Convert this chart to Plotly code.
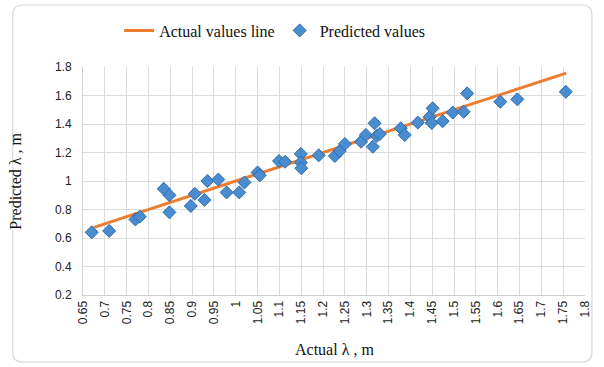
import plotly.graph_objects as go

actual = [0.67, 0.71, 0.77, 0.78, 0.835, 0.848, 0.848, 0.897, 0.906, 0.928,
          0.935, 0.96, 0.979, 1.008, 1.02, 1.05, 1.055, 1.099, 1.113, 1.149,
          1.149, 1.15, 1.19, 1.227, 1.238, 1.25, 1.287, 1.298, 1.318, 1.323,
          1.314, 1.33, 1.378, 1.387, 1.417, 1.444, 1.451, 1.449, 1.474, 1.497,
          1.522, 1.53, 1.606, 1.645, 1.756]
predicted = [0.64, 0.65, 0.73, 0.75, 0.945, 0.90, 0.78, 0.825, 0.91, 0.867,
             1.0, 1.01, 0.92, 0.92, 0.99, 1.06, 1.04, 1.14, 1.135, 1.19,
             1.13, 1.09, 1.18, 1.175, 1.21, 1.26, 1.276, 1.323, 1.405, 1.316,
             1.24, 1.33, 1.37, 1.323, 1.41, 1.45, 1.51, 1.407, 1.42, 1.48,
             1.486, 1.615, 1.556, 1.573, 1.626]
line_x = [0.675, 1.757]
line_y = [0.675, 1.757]

x_ticks = [round(0.65 + 0.05 * i, 2) for i in range(24)]
x_ticklabels = ["0.65", "0.7", "0.75", "0.8", "0.85", "0.9", "0.95", "1", "1.05", "1.1",
                "1.15", "1.2", "1.25", "1.3", "1.35", "1.4", "1.45", "1.5", "1.55", "1.6",
                "1.65", "1.7", "1.75", "1.8"]
y_ticks = [0.2, 0.4, 0.6, 0.8, 1.0, 1.2, 1.4, 1.6, 1.8]
y_ticklabels = ["0.2", "0.4", "0.6", "0.8", "1", "1.2", "1.4", "1.6", "1.8"]

fig = go.Figure()
fig.add_trace(go.Scatter(x=line_x, y=line_y, mode="lines", name="Actual values line",
                         line=dict(color="#ED7D31", width=3)))
fig.add_trace(go.Scatter(x=actual, y=predicted, mode="markers", name="Predicted values  ",
                         marker=dict(symbol="diamond", size=10, color="#4A8CD0",
                                     line=dict(color="#2E6AAA", width=1))))

# rounded outer border (paper coords)
L, R, T, B = -0.140, 1.0138, 1.272, -0.294
rx, ry = 0.02, 0.044
path = (f"M {L+rx},{T} L {R-rx},{T} Q {R},{T} {R},{T-ry} L {R},{B+ry} Q {R},{B} {R-rx},{B} "
        f"L {L+rx},{B} Q {L},{B} {L},{B+ry} L {L},{T-ry} Q {L},{T} {L+rx},{T} Z")
fig.add_shape(type="path", path=path, xref="paper", yref="paper",
              line=dict(color="#D9D9D9", width=1.2), layer="below")

serif = "Liberation Serif, Times New Roman, serif"
sans = "Liberation Sans Narrow, Liberation Sans, Arial, sans-serif"

fig.update_layout(
    width=604, height=367,
    margin=dict(l=83, r=14, t=67, b=72),
    paper_bgcolor="white", plot_bgcolor="white",
    showlegend=True,
    legend=dict(orientation="h", x=0.072, xanchor="left", y=1.16, yanchor="middle",
                font=dict(family=serif, size=16, color="#111111"),
                bgcolor="rgba(0,0,0,0)", itemwidth=30, tracegroupgap=0),
    xaxis=dict(range=[0.65, 1.8], tickmode="array", tickvals=x_ticks, ticktext=x_ticklabels,
               tickangle=-90, showgrid=True, gridcolor="#DCDCDC", gridwidth=1,
               showline=True, linecolor="#D0D0D0", zeroline=False,
               tickfont=dict(family=sans, size=12, color="#222222"), ticks=""),
    yaxis=dict(range=[0.2, 1.8], tickmode="array", tickvals=y_ticks, ticktext=y_ticklabels,
               showgrid=True, gridcolor="#DCDCDC", gridwidth=1,
               showline=True, linecolor="#D0D0D0", zeroline=False,
               tickfont=dict(family=sans, size=12, color="#222222"), ticks="",
               ticklabelstandoff=8),
    annotations=[
        dict(text="Actual λ , m", x=0.5, y=-0.241, xref="paper", yref="paper",
             showarrow=False, font=dict(family=serif, size=16, color="#111111"),
             xanchor="center", yanchor="middle"),
        dict(text="Predicted λ , m", x=(14 - 83) / 507, y=0.5, xref="paper", yref="paper",
             showarrow=False, textangle=-90, font=dict(family=serif, size=16, color="#111111"),
             xanchor="center", yanchor="middle"),
    ],
)

fig.write_html("out.html")
